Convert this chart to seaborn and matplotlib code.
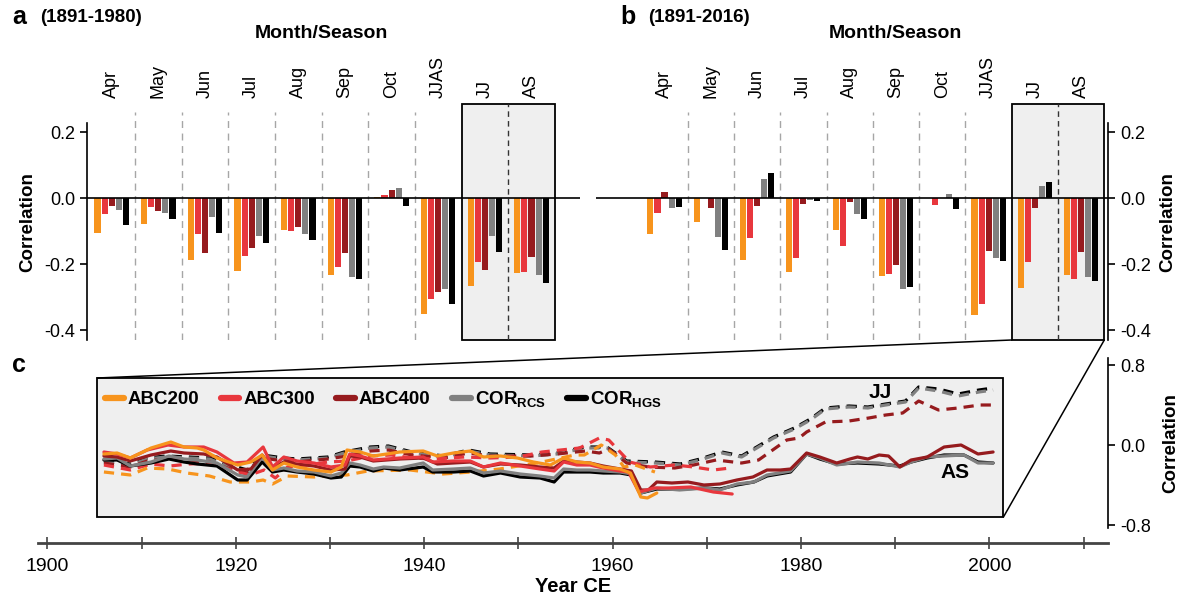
import matplotlib
matplotlib.use("Agg")
import matplotlib.pyplot as plt
from matplotlib import font_manager
from matplotlib.patches import Rectangle, ConnectionPatch
from matplotlib.lines import Line2D
from matplotlib.ticker import MultipleLocator, FixedLocator
import seaborn as sns
import pandas as pd

# ---------------------------------------------------------------- data
months = ["Apr", "May", "Jun", "Jul", "Aug", "Sep", "Oct", "JJAS", "JJ", "AS"]
series_names = ["ABC200", "ABC300", "ABC400", "COR_RCS", "COR_HGS"]
series_colors = ["#F7941D", "#E8373D", "#961B1E", "#808080", "#000000"]

# (a) 1891-1980 correlations per month/season
a_abc200 = [-0.106, -0.078, -0.187, -0.220, -0.098, -0.233, 0.003, -0.352, -0.266, -0.226]
a_abc300 = [-0.048, -0.027, -0.109, -0.175, -0.101, -0.210, 0.010, -0.307, -0.193, -0.225]
a_abc400 = [-0.025, -0.038, -0.165, -0.152, -0.087, -0.167, 0.024, -0.284, -0.218, -0.178]
a_rcs = [-0.035, -0.044, -0.058, -0.116, -0.109, -0.238, 0.029, -0.276, -0.116, -0.234]
a_hgs = [-0.081, -0.063, -0.107, -0.137, -0.128, -0.246, -0.024, -0.320, -0.163, -0.258]

# (b) 1891-2016 correlations per month/season
b_abc200 = [-0.108, -0.074, -0.189, -0.224, -0.096, -0.237, 0.000, -0.354, -0.271, -0.234]
b_abc300 = [-0.046, 0.000, -0.120, -0.181, -0.144, -0.230, -0.021, -0.322, -0.195, -0.246]
b_abc400 = [0.017, -0.031, -0.025, -0.019, -0.012, -0.203, 0.000, -0.159, -0.031, -0.162]
b_rcs = [-0.029, -0.118, 0.058, -0.007, -0.047, -0.276, 0.011, -0.183, 0.037, -0.239]
b_hgs = [-0.026, -0.157, 0.076, -0.010, -0.064, -0.269, -0.033, -0.190, 0.048, -0.250]

# (c) running correlations, AS (solid)
as_abc200_yr = [1906.0, 1907.4, 1908.8, 1911.0, 1913.1, 1914.5, 1915.9, 1916.6, 1918.0, 1920.2,
                1921.6, 1922.8, 1923.9, 1925.1, 1926.5, 1928.3, 1930.1, 1931.2, 1931.8, 1933.2,
                1934.6, 1937.4, 1939.9, 1941.4, 1943.1, 1944.9, 1946.3, 1948.1, 1949.9, 1951.6,
                1953.4, 1954.8, 1956.2, 1957.6, 1959.0, 1960.8, 1961.9, 1963.0, 1963.7, 1964.7]
as_abc200 = [-0.09, -0.08, -0.13, -0.03, 0.03, -0.02, -0.03, -0.05, -0.13, -0.20,
             -0.17, -0.10, -0.25, -0.18, -0.22, -0.25, -0.27, -0.22, -0.05, -0.07,
             -0.11, -0.07, -0.06, -0.11, -0.08, -0.06, -0.12, -0.11, -0.13, -0.17,
             -0.20, -0.13, -0.17, -0.18, -0.22, -0.24, -0.28, -0.52, -0.53, -0.48]

as_abc300_yr = [1906.0, 1907.4, 1908.8, 1910.6, 1912.8, 1914.5, 1916.6, 1918.0, 1919.8, 1921.2,
                1922.9, 1923.9, 1925.1, 1926.5, 1928.3, 1930.1, 1931.6, 1932.1, 1933.2, 1934.6,
                1937.4, 1939.9, 1940.9, 1943.1, 1944.9, 1946.3, 1948.1, 1950.2, 1952.3, 1953.8,
                1954.8, 1956.2, 1957.6, 1959.0, 1960.8, 1961.7, 1962.8, 1964.4, 1966.0, 1968.3,
                1970.7, 1972.7]
as_abc300 = [-0.07, -0.09, -0.13, -0.05, 0.00, -0.02, -0.02, -0.07, -0.18, -0.17,
             -0.02, -0.22, -0.12, -0.16, -0.18, -0.22, -0.20, -0.09, -0.11, -0.15,
             -0.13, -0.12, -0.17, -0.16, -0.16, -0.22, -0.18, -0.21, -0.24, -0.26,
             -0.17, -0.20, -0.20, -0.23, -0.26, -0.27, -0.47, -0.43, -0.43, -0.42,
             -0.47, -0.49]

as_abc400_yr = [1906.0, 1907.4, 1908.8, 1911.0, 1913.1, 1914.5, 1916.6, 1918.0, 1920.2, 1921.6,
                1922.8, 1923.9, 1925.1, 1926.5, 1928.3, 1930.1, 1931.6, 1932.1, 1933.2, 1934.6,
                1937.4, 1939.9, 1941.4, 1943.1, 1944.9, 1946.3, 1948.1, 1950.2, 1952.3, 1953.8,
                1954.8, 1956.2, 1957.6, 1959.0, 1960.8, 1962.0, 1963.0, 1963.8, 1964.7, 1966.3,
                1968.0, 1969.7, 1971.4, 1973.2, 1974.9, 1976.4, 1977.8, 1978.9, 1980.6, 1982.0,
                1983.8, 1985.2, 1986.0, 1987.1, 1988.3, 1989.3, 1990.5, 1991.7, 1993.4, 1995.2,
                1997.0, 1998.8, 2000.4]
as_abc400 = [-0.11, -0.12, -0.16, -0.10, -0.06, -0.08, -0.09, -0.12, -0.25, -0.24,
             -0.10, -0.23, -0.17, -0.19, -0.21, -0.25, -0.24, -0.11, -0.12, -0.16,
             -0.14, -0.13, -0.19, -0.18, -0.17, -0.22, -0.19, -0.20, -0.22, -0.23,
             -0.16, -0.17, -0.18, -0.21, -0.24, -0.26, -0.45, -0.45, -0.37, -0.38,
             -0.37, -0.40, -0.39, -0.35, -0.32, -0.25, -0.25, -0.24, -0.08, -0.12,
             -0.18, -0.14, -0.12, -0.14, -0.10, -0.11, -0.22, -0.15, -0.12, -0.02,
             0.00, -0.09, -0.07]

as_cor_yr = [1906.0, 1907.4, 1908.8, 1911.0, 1912.9, 1914.5, 1915.9, 1918.0, 1920.2, 1921.2,
             1922.8, 1923.9, 1925.1, 1926.5, 1928.3, 1930.1, 1931.2, 1932.1, 1933.2, 1934.6,
             1935.7, 1937.4, 1939.9, 1940.9, 1943.1, 1944.9, 1946.3, 1948.1, 1950.2, 1952.3,
             1953.8, 1954.8, 1956.2, 1957.6, 1959.0, 1960.8, 1962.0, 1963.0, 1964.7, 1967.1,
             1969.9, 1971.4, 1973.2, 1975.0, 1976.4, 1978.9, 1980.6, 1982.0, 1983.8, 1986.0,
             1988.3, 1990.5, 1991.7, 1993.4, 1995.2, 1997.3, 1998.8, 2000.4]
as_rcs = [-0.14, -0.13, -0.21, -0.17, -0.11, -0.14, -0.15, -0.18, -0.30, -0.32,
          -0.12, -0.25, -0.23, -0.26, -0.27, -0.31, -0.28, -0.18, -0.20, -0.24,
          -0.22, -0.23, -0.18, -0.25, -0.24, -0.23, -0.28, -0.26, -0.29, -0.31,
          -0.33, -0.24, -0.25, -0.25, -0.26, -0.27, -0.29, -0.48, -0.43, -0.45,
          -0.43, -0.45, -0.39, -0.37, -0.30, -0.26, -0.09, -0.13, -0.20, -0.17,
          -0.18, -0.22, -0.17, -0.12, -0.11, -0.10, -0.18, -0.18]
as_hgs = [-0.15, -0.15, -0.21, -0.18, -0.14, -0.17, -0.19, -0.21, -0.35, -0.35,
          -0.17, -0.27, -0.25, -0.27, -0.29, -0.33, -0.32, -0.21, -0.22, -0.26,
          -0.23, -0.25, -0.22, -0.27, -0.27, -0.26, -0.31, -0.28, -0.32, -0.33,
          -0.37, -0.27, -0.27, -0.27, -0.28, -0.28, -0.30, -0.48, -0.44, -0.44,
          -0.43, -0.44, -0.40, -0.37, -0.31, -0.27, -0.09, -0.14, -0.19, -0.18,
          -0.19, -0.21, -0.17, -0.13, -0.10, -0.10, -0.17, -0.18]

# (c) running correlations, JJ (dashed)
jj_abc200_yr = [1906.0, 1908.8, 1910.6, 1912.8, 1914.8, 1917.2, 1919.4, 1921.6, 1922.9, 1923.9,
                1925.5, 1928.3, 1930.5, 1931.8, 1934.0, 1938.5, 1942.0, 1945.0, 1948.0, 1952.0,
                1956.0, 1957.0, 1958.8, 1960.3, 1961.2, 1962.4, 1964.5]
jj_abc200 = [-0.27, -0.30, -0.23, -0.24, -0.28, -0.31, -0.37, -0.37, -0.35, -0.39,
             -0.31, -0.32, -0.30, -0.30, -0.26, -0.25, -0.29, -0.27, -0.24, -0.18,
             -0.10, -0.10, 0.00, -0.10, -0.22, -0.20, -0.27]

jj_abc300_yr = [1906.0, 1908.8, 1911.0, 1913.0, 1915.0, 1917.5, 1919.5, 1921.5, 1923.0, 1924.2,
                1925.5, 1927.5, 1929.8, 1931.8, 1934.3, 1936.5, 1938.7, 1941.0, 1944.3, 1947.0,
                1950.0, 1952.5, 1956.5, 1958.6, 1959.6, 1960.6, 1961.8, 1964.0, 1966.6, 1968.6,
                1970.7, 1972.5]
jj_abc300 = [-0.20, -0.25, -0.19, -0.21, -0.19, -0.18, -0.25, -0.30, -0.25, -0.33,
             -0.22, -0.20, -0.17, -0.16, -0.11, -0.10, -0.13, -0.14, -0.12, -0.13,
             -0.12, -0.07, -0.03, 0.07, 0.05, -0.05, -0.17, -0.22, -0.20, -0.22,
             -0.25, -0.23]

jj_abc400_yr = [1906.0, 1908.8, 1910.6, 1912.6, 1915.0, 1917.2, 1919.4, 1921.2, 1922.8, 1925.1,
                1926.5, 1929.8, 1931.8, 1934.3, 1936.2, 1938.7, 1942.1, 1944.7, 1947.0, 1951.4,
                1954.1, 1957.1, 1958.6, 1959.6, 1961.5, 1963.8, 1966.6, 1968.6, 1971.0, 1973.7,
                1975.5, 1977.3, 1978.5, 1979.8, 1980.6, 1982.6, 1985.1, 1987.2, 1989.0, 1990.8,
                1992.5, 1994.6, 1996.7, 1999.0, 2000.5]
jj_abc400 = [-0.18, -0.22, -0.16, -0.14, -0.15, -0.17, -0.24, -0.28, -0.13, -0.16,
             -0.17, -0.14, -0.11, -0.06, -0.05, -0.10, -0.13, -0.08, -0.11, -0.11,
             -0.09, -0.06, -0.08, -0.04, -0.18, -0.22, -0.23, -0.20, -0.15, -0.18,
             -0.15, -0.03, 0.05, 0.07, 0.13, 0.23, 0.24, 0.27, 0.30, 0.32,
             0.44, 0.35, 0.37, 0.40, 0.40]

jj_cor_yr = [1906.0, 1908.8, 1910.6, 1912.6, 1915.0, 1917.2, 1919.4, 1921.2, 1922.8, 1925.1,
             1926.5, 1929.8, 1931.5, 1934.3, 1936.2, 1938.7, 1942.1, 1944.7, 1947.0, 1951.4,
             1954.1, 1957.1, 1959.4, 1961.5, 1964.5, 1967.2, 1969.3, 1971.6, 1973.7, 1977.1,
             1979.3, 1981.0, 1982.6, 1985.1, 1987.1, 1989.0, 1991.1, 1992.5, 1994.6, 1996.7,
             1998.9, 2000.4]
jj_rcs = [-0.17, -0.20, -0.14, -0.12, -0.13, -0.14, -0.22, -0.27, -0.11, -0.14,
          -0.15, -0.13, -0.08, -0.03, -0.02, -0.08, -0.12, -0.06, -0.10, -0.11,
          -0.09, -0.03, -0.03, -0.17, -0.18, -0.20, -0.15, -0.08, -0.12, 0.07,
          0.16, 0.25, 0.36, 0.38, 0.37, 0.40, 0.43, 0.57, 0.54, 0.49,
          0.53, 0.55]
jj_hgs = [-0.16, -0.19, -0.13, -0.11, -0.12, -0.13, -0.20, -0.25, -0.10, -0.13,
          -0.14, -0.12, -0.07, -0.02, -0.01, -0.07, -0.11, -0.05, -0.09, -0.10,
          -0.08, -0.02, -0.02, -0.16, -0.17, -0.19, -0.14, -0.07, -0.11, 0.08,
          0.17, 0.26, 0.37, 0.39, 0.38, 0.41, 0.44, 0.58, 0.56, 0.51,
          0.55, 0.57]

year_ticks = [1900, 1920, 1940, 1960, 1980, 2000]

# ---------------------------------------------------------------- style
sns.set_theme(style="ticks", rc={
    "text.color": "black", "axes.labelcolor": "black",
    "xtick.color": "black", "ytick.color": "black",
})
_installed = {f.name for f in font_manager.fontManager.ttflist}
NARROW = "Liberation Sans Narrow" if "Liberation Sans Narrow" in _installed else "Liberation Sans"
plt.rcParams["font.family"] = ["Liberation Sans", "DejaVu Sans"]
plt.rcParams["axes.unicode_minus"] = False
plt.rcParams["mathtext.fontset"] = "custom"
plt.rcParams["mathtext.rm"] = "Liberation Sans"
plt.rcParams["mathtext.bf"] = "Liberation Sans:bold"

W, H = 1195, 598
fig = plt.figure(figsize=(W / 100, H / 100), dpi=100)


def px_axes(x0, y0, x1, y1):
    return fig.add_axes([x0 / W, 1 - y1 / H, (x1 - x0) / W, (y1 - y0) / H])


axa = px_axes(87, 104, 580, 340)
axb = px_axes(596, 104, 1108, 340)
axc = px_axes(38, 358, 1108, 528)

Y_LO, Y_HI, SPINE_TOP = -0.43, 0.285, 0.227
BOX_FACE = "#efefef"


def bar_panel(ax, cols, xlim, side):
    df = pd.DataFrame({
        "period": [m for _ in series_names for m in months],
        "series": [s for s in series_names for _ in months],
        "r": [v for col in cols for v in col],
    })
    sns.barplot(data=df, x="period", y="r", hue="series", order=months,
                hue_order=series_names, palette=series_colors, width=0.76,
                gap=0.14, saturation=1, errorbar=None, legend=False,
                linewidth=0, ax=ax)
    ax.set_xlim(*xlim)
    ax.set_ylim(Y_LO, Y_HI)
    ax.set_xlabel("")
    ax.set_ylabel("")

    # shaded JJ / AS block
    ax.add_patch(Rectangle((7.5, Y_LO), 2.0, Y_HI - Y_LO, facecolor=BOX_FACE,
                           edgecolor="black", lw=1.3, zorder=0.5, clip_on=False))
    ax.vlines([i + 0.5 for i in range(7)], Y_LO, 0.26, colors="#a6a6a6",
              linestyles=(0, (5, 4)), lw=1.0, zorder=0.8)
    ax.vlines([8.5], Y_LO, Y_HI, colors="#333333", linestyles=(0, (4, 3)),
              lw=1.0, zorder=0.8)
    ax.axhline(0, color="black", lw=1.2, zorder=3)

    ax.xaxis.tick_top()
    ax.set_xticks(range(len(months)))
    ax.set_xticklabels(months, rotation=90)
    ax.tick_params(axis="x", length=0, pad=4, labelsize=13, colors="black")

    yt = [-0.4, -0.2, 0.0, 0.2]
    ax.yaxis.set_major_locator(FixedLocator(yt))
    ax.set_yticklabels([f"{v:.1f}" for v in yt])
    for s in ("top", "bottom", "left", "right"):
        ax.spines[s].set_visible(False)
    sp = ax.spines[side]
    sp.set_visible(True)
    sp.set_bounds(Y_LO, SPINE_TOP)
    sp.set_color("black")
    sp.set_linewidth(1.2)
    if side == "right":
        ax.yaxis.tick_right()
        ax.yaxis.set_label_position("right")
    ax.tick_params(axis="y", length=5, width=1.2, labelsize=13, colors="black",
                   left=(side == "left"), right=(side == "right"))
    ax.set_ylabel("Correlation", fontsize=13.5, fontweight="bold", labelpad=6)
    ax.patch.set_alpha(0)


bar_panel(axa, [a_abc200, a_abc300, a_abc400, a_rcs, a_hgs], (-0.53, 10.04), "left")
bar_panel(axb, [b_abc200, b_abc300, b_abc400, b_rcs, b_hgs], (-1.48, 9.58), "right")

# ---------------------------------------------------------------- panel c
axc.set_xlim(1899.0, 2012.6)
axc.set_ylim(-0.83, 0.87)
BOX_X0, BOX_X1, BOX_Y0, BOX_Y1 = 1905.3, 2001.5, -0.72, 0.67
axc.add_patch(Rectangle((BOX_X0, BOX_Y0), BOX_X1 - BOX_X0, BOX_Y1 - BOX_Y0,
                        facecolor=BOX_FACE, edgecolor="black", lw=1.3, zorder=0.5))

DASH = (0, (3.2, 2.2))
jj_lines = [
    (jj_cor_yr, jj_hgs, 4), (jj_cor_yr, jj_rcs, 3), (jj_abc400_yr, jj_abc400, 2),
    (jj_abc300_yr, jj_abc300, 1), (jj_abc200_yr, jj_abc200, 0),
]
as_lines = [
    (as_cor_yr, as_hgs, 4), (as_cor_yr, as_rcs, 3), (as_abc400_yr, as_abc400, 2),
    (as_abc300_yr, as_abc300, 1), (as_abc200_yr, as_abc200, 0),
]
for yrs, vals, k in jj_lines:
    sns.lineplot(x=yrs, y=vals, ax=axc, color=series_colors[k], lw=2.3,
                 linestyle=DASH, sort=False, estimator=None, zorder=2)
for yrs, vals, k in as_lines:
    sns.lineplot(x=yrs, y=vals, ax=axc, color=series_colors[k], lw=2.3,
                 sort=False, estimator=None, zorder=3)

axc.text(1988.4, 0.53, "JJ", fontsize=15, fontweight="bold", ha="center", va="center")
axc.text(1996.4, -0.28, "AS", fontsize=15, fontweight="bold", ha="center", va="center")

handles = [Line2D([], [], color=c, lw=4.5) for c in series_colors]
labels = ["ABC200", "ABC300", "ABC400", r"COR$_{\mathbf{RCS}}$", r"COR$_{\mathbf{HGS}}$"]
axc.legend(handles, labels, loc="center left", bbox_to_anchor=(0.0626, 0.755),
           ncol=5, frameon=False, prop={"weight": "bold", "size": 13.5},
           handlelength=1.0, handletextpad=0.2, columnspacing=1.15,
           borderaxespad=0, borderpad=0)

for s in ("top", "left"):
    axc.spines[s].set_visible(False)
axc.spines["right"].set_color("black")
axc.spines["right"].set_linewidth(1.2)
axc.spines["bottom"].set_position(("outward", 10.8))
axc.spines["bottom"].set_color("#444444")
axc.spines["bottom"].set_linewidth(2.0)
axc.yaxis.tick_right()
axc.yaxis.set_label_position("right")
axc.set_yticks([-0.8, 0.0, 0.8])
axc.set_yticklabels(["-0.8", "0.0", "0.8"])
axc.tick_params(axis="y", length=5, width=1.2, labelsize=13, colors="black",
                left=False, right=True)
axc.set_ylabel("Correlation", fontsize=13.5, fontweight="bold", labelpad=8)

axc.xaxis.set_major_locator(FixedLocator(year_ticks))
axc.xaxis.set_minor_locator(MultipleLocator(10))
axc.set_xticklabels([str(y) for y in year_ticks], fontfamily=NARROW, fontsize=14)
axc.tick_params(axis="x", which="both", direction="inout", length=9, width=1.2,
                color="#444444", labelcolor="black", pad=6, bottom=True)
axc.set_xlabel("Year CE", fontfamily=NARROW, fontsize=14.5, fontweight="bold",
               labelpad=2)
axc.patch.set_alpha(0)

# zoom connectors from the (b) JJ/AS block to the running-correlation box
for xyA, xyB in [((BOX_X0, BOX_Y1), (7.5, Y_LO)), ((BOX_X1, BOX_Y0), (9.5, Y_LO))]:
    fig.add_artist(ConnectionPatch(xyA=xyA, coordsA=axc.transData, xyB=xyB,
                                   coordsB=axb.transData, color="black", lw=1.1))

# ---------------------------------------------------------------- titles
def ftext(x, y, s, **kw):
    fig.text(x / W, 1 - y / H, s, **kw)


ftext(12, 17, "a", fontsize=18, fontweight="bold", va="center")
ftext(40, 17, "(1891-1980)", fontsize=13.5, fontweight="bold", va="center")
ftext(620, 17, "b", fontsize=18, fontweight="bold", va="center")
ftext(648, 17, "(1891-2016)", fontsize=13.5, fontweight="bold", va="center")
ftext(12, 365, "c", fontsize=18, fontweight="bold", va="center")
ftext(321, 33, "Month/Season", fontsize=14, fontweight="bold", ha="center", va="center")
ftext(895, 33, "Month/Season", fontsize=14, fontweight="bold", ha="center", va="center")

fig.savefig("out.png", dpi=100)
